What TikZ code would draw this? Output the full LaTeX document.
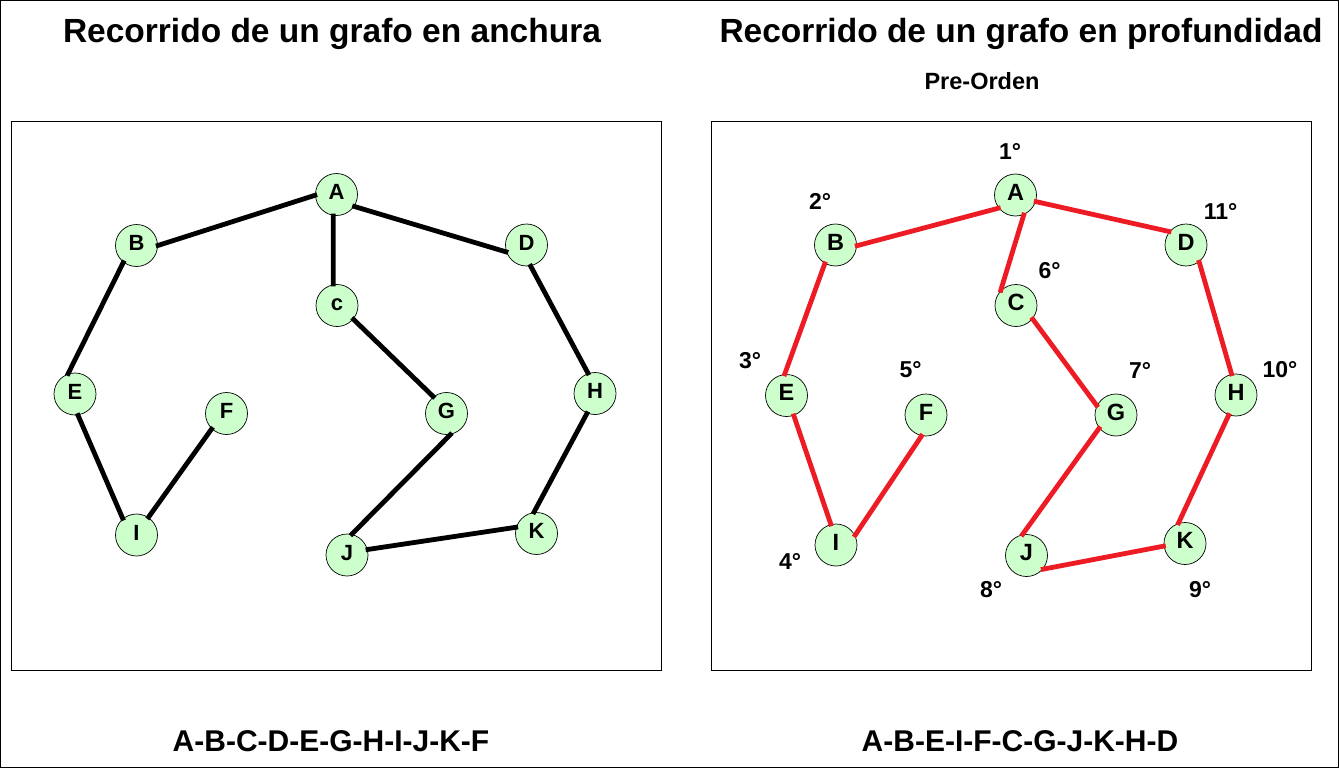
\documentclass[tikz,border=0pt]{standalone}
\usepackage{fontspec}
\setmainfont{Liberation Sans}
\definecolor{nodegreen}{RGB}{204,255,204}
\definecolor{edgered}{RGB}{237,28,36}
\begin{document}
\begin{tikzpicture}[x=1pt,y=-1pt,
  gnode/.style={circle,draw=black,line width=0.7pt,fill=nodegreen,minimum size=42pt,inner sep=0pt},
  lnode/.style={gnode,font=\fontsize{22}{22}\selectfont\bfseries,text height=15.8pt,text depth=5pt},
  rnode/.style={gnode,font=\fontsize{23.5}{24}\selectfont\bfseries,text height=16.8pt,text depth=6pt},
  bedge/.style={line width=4.8pt,black,shorten <=-2pt,shorten >=-2pt},
  redge/.style={line width=4.8pt,edgered,shorten <=-2pt,shorten >=-2pt},
  ord/.style={font=\fontsize{23}{23}\selectfont\bfseries,inner sep=0pt},
  titletext/.style={font=\fontsize{33.5}{36}\selectfont\bfseries,inner sep=0pt,anchor=base},
  subtext/.style={font=\fontsize{23.5}{26}\selectfont\bfseries,inner sep=0pt,anchor=base},
  seqtext/.style={font=\fontsize{30}{32}\selectfont\bfseries,inner sep=0pt,anchor=base},
  panel/.style={draw=black,line width=1pt}]
\useasboundingbox (0,0) rectangle (1339,768);
\draw[line width=1pt] (0.5,0.5) rectangle (1338.5,767.5);
% titles
\node[titletext] (t1) at (332,43) {Recorrido de un grafo en anchura};
\node[titletext] (t2) at (1021,43) {Recorrido de un grafo en profundidad};
\node[subtext] (sub) at (982,89.5) {Pre-Orden};
\node[seqtext] (s1) at (331,751) {A-B-C-D-E-G-H-I-J-K-F};
\node[seqtext] (s2) at (1020,751) {A-B-E-I-F-C-G-J-K-H-D};
% panels
\draw[panel] (11,121) rectangle (661,670);
\draw[panel] (711,121) rectangle (1311,670);
% left graph
\node[lnode] (lA) at (336.5,194.5) {A};
\node[lnode] (lB) at (136.5,245.5) {B};
\node[lnode] (lD) at (526.5,245) {D};
\node[lnode] (lC) at (337,305.5) {c};
\node[lnode] (lE) at (75,394) {E};
\node[lnode] (lF) at (226.5,413.5) {F};
\node[lnode] (lG) at (446.5,413.5) {G};
\node[lnode] (lH) at (595,393.5) {H};
\node[lnode] (lI) at (136.5,535) {I};
\node[lnode] (lJ) at (347,555) {J};
\node[lnode] (lK) at (536.5,533.5) {K};
\draw[bedge] (lB.0) -- (lA.-178);
\draw[bedge] (lA.-34) -- (lD.-161);
\draw[bedge] (lA.-99) -- (lC.100);
\draw[bedge] (lB.-128) -- (lE.109);
\draw[bedge] (lE.-82) -- (lI.130);
\draw[bedge] (lI.56) -- (lF.-134);
\draw[bedge] (lC.-40) -- (lG.128);
\draw[bedge] (lG.-79) -- (lJ.77);
\draw[bedge] (lJ.15) -- (lK.163);
\draw[bedge] (lK.97) -- (lH.-112);
\draw[bedge] (lH.109) -- (lD.-79);
% right graph
\node[rnode] (rA) at (1015.5,195) {A};
\node[rnode] (rB) at (835.5,245) {B};
\node[rnode] (rD) at (1186,245) {D};
\node[rnode] (rC) at (1016,305.5) {C};
\node[rnode] (rE) at (786.5,395.5) {E};
\node[rnode] (rF) at (926,415) {F};
\node[rnode] (rG) at (1116,415) {G};
\node[rnode] (rH) at (1236,395) {H};
\node[rnode] (rI) at (836,545) {I};
\node[rnode] (rJ) at (1026.5,555.5) {J};
\node[rnode] (rK) at (1185,543.5) {K};
\draw[redge] (rB.-2) -- (rA.-142);
\draw[redge] (rA.-18) -- (rD.141);
\draw[redge] (rA.-67) -- (rC.136);
\draw[redge] (rB.-120) -- (rE.95);
\draw[redge] (rE.-70) -- (rI.104);
\draw[redge] (rI.27) -- (rF.-102);
\draw[redge] (rC.-39) -- (rG.154);
\draw[redge] (rG.-142) -- (rJ.101);
\draw[redge] (rJ.-40) -- (rK.-173);
\draw[redge] (rK.108) -- (rH.-110);
\draw[redge] (rH.102) -- (rD.-52);
% order labels
\node[ord] (o1) at (1010,151) {1°};
\node[ord] (o2) at (820,201) {2°};
\node[ord] (o3) at (750,361) {3°};
\node[ord] (o4) at (790,561) {4°};
\node[ord] (o5) at (910.5,370) {5°};
\node[ord] (o6) at (1049.5,271) {6°};
\node[ord] (o7) at (1140,370) {7°};
\node[ord] (o8) at (991,590) {8°};
\node[ord] (o9) at (1200,590) {9°};
\node[ord] (o10) at (1280,370) {10°};
\node[ord] (o11) at (1220.5,211) {11°};
\end{tikzpicture}
\end{document}
